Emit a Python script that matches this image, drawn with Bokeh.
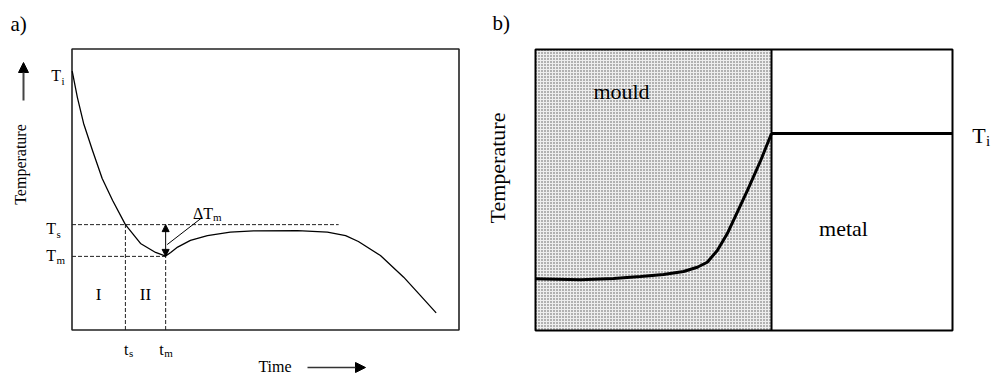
from math import pi

from bokeh.core.properties import value
from bokeh.embed import file_html
from bokeh.models import Arrow, NormalHead, Range1d
from bokeh.plotting import figure
from bokeh.resources import INLINE

# ---- panel a: cooling curve (relative time 0-100, relative temperature 0-100)
cool_time = [0.05, 1.4, 3.0, 5.3, 7.8, 10.5, 13.8, 17.7, 21.6, 24.2, 25.5, 27.3,
             30.6, 35.0, 40.9, 46.9, 58.3, 66.0, 70.7, 74.0, 79.7, 85.7, 90.0, 94.1]
cool_temp = [92.1, 82.7, 73.5, 63.9, 53.9, 46.1, 37.5, 30.8, 27.6, 26.3, 27.6, 29.5,
             31.9, 33.6, 34.8, 35.3, 35.4, 34.8, 33.6, 31.5, 26.5, 18.8, 12.3, 6.1]
level_names = ["i", "s", "m"]          # T_i, T_s, T_m
level_temps = [92.1, 37.5, 26.2]
time_names = ["s", "m"]                 # t_s, t_m
time_marks = [13.8, 24.2]
ts_line_end = 68.9                      # extent of the T_s guide line
stage_names = ["I", "II"]

# ---- panel b: temperature across mould and metal (relative position 0-100)
wall_pos = [0.0, 10.8, 18.7, 25.2, 30.7, 35.5, 38.8, 41.2, 43.6, 46.0, 50.8, 54.0, 56.6]
wall_temp = [18.4, 18.1, 18.5, 19.2, 19.9, 21.0, 22.5, 24.3, 28.5, 34.5, 49.8, 60.5, 70.1]
interface_pos = 56.6
metal_temp = 70.1

W, H = 994, 376
SERIF = value("Liberation Serif")


def span(px_lo, px_hi, v_lo, v_hi, total):
    """Range over the whole canvas such that pixel px_lo -> v_lo and px_hi -> v_hi."""
    k = (v_hi - v_lo) / (px_hi - px_lo)
    return Range1d(start=v_lo - px_lo * k, end=v_lo + (total - px_lo) * k)


def label(x, y, txt, size, align="left", **kw):
    """Serif text centred vertically on (x, y)."""
    p.text(x=[x], y=[y], text=[txt], text_align=align, text_baseline="middle",
           text_font=SERIF, text_font_size=size, text_color="black", **kw)


# page coordinates: pixels, y measured from the top
p = figure(width=W, height=H, output_backend="svg", toolbar_location=None,
           x_range=Range1d(0, W), y_range=Range1d(H, 0), min_border=0)
p.axis.visible = False
p.grid.visible = False
p.outline_line_color = None
p.background_fill_color = "white"
p.border_fill_color = "white"

# frames: a) x 71.5..458.5, y 48.5..329.5 ; b) x 535..952, y 49..330 (pixels)
p.extra_x_ranges = {"a": span(71.5, 458.5, 0, 100, W), "b": span(535, 952, 0, 100, W)}
p.extra_y_ranges = {"a": span(H - 329.5, H - 48.5, 0, 100, H),
                    "b": span(H - 330, H - 49, 0, 100, H)}
A = dict(x_range_name="a", y_range_name="a")
B = dict(x_range_name="b", y_range_name="b")

# ================= panel a =================
p.quad(left=0, right=100, bottom=0, top=100, fill_color=None,
       line_color="#222222", line_width=1.6, **A)

T_i, T_s, T_m = level_temps
t_s, t_m = time_marks
dash = dict(line_color="#222222", line_width=1, line_dash="4 2")
p.segment(x0=[0, 0, t_s, t_m], y0=[T_s, T_m, 0, 0],
          x1=[ts_line_end, t_m, t_s, t_m], y1=[T_s, T_m, T_s, T_m], **dash, **A)

p.line(cool_time, cool_temp, line_color="black", line_width=1.3, **A)

# undercooling double arrow and its leader
p.add_layout(Arrow(start=NormalHead(size=7, fill_color="black", line_color="black"),
                   end=NormalHead(size=7, fill_color="black", line_color="black"),
                   x_start=t_m, y_start=T_m, x_end=t_m, y_end=T_s,
                   line_color="black", line_width=1, **A))
p.line([t_m + 0.4, 33.6], [T_m + 4.2, 40.0], line_color="black", line_width=1, **A)

# level labels T_i, T_s, T_m on the left of the frame
lvl_dx = [-11, -16, -16]
lvl_dy = [4.6, 4.3, -0.5]
sub_dy = [9.5, 9.0, 4.0]
for name, lv, dx, dy, sdy in zip(level_names, level_temps, lvl_dx, lvl_dy, sub_dy):
    label(0, lv, "T", "16px", align="right", x_offset=dx, y_offset=dy, **A)
    label(0, lv, name, "11px", x_offset=dx + 0.5, y_offset=sdy, **A)

# time labels t_s, t_m below the frame
tm_dx = [3, -2]
for name, tv, dx in zip(time_names, time_marks, tm_dx):
    label(tv, 0, "t", "16px", align="right", x_offset=dx, y_offset=19.5, **A)
    label(tv, 0, name, "11px", x_offset=dx + 0.5, y_offset=22.5, **A)

# stage labels centred in their time intervals
stage_x = [(0 + t_s) / 2, (t_s + t_m) / 2]
for sx, name in zip(stage_x, stage_names):
    label(sx, 12.5, name, "17px", align="center", **A)

# delta T_m label at the end of the leader
label(33.6, 40.0, "\u0394T", "16px", x_offset=-9, y_offset=-4.4, **A)
label(33.6, 40.0, "m", "11px", x_offset=11, y_offset=-1.0, **A)

# panel tag, axis titles and their arrows
label(10, 23, "a)", "21px")
p.text(x=[20], y=[164], text=["Temperature"], angle=pi / 2, text_align="center",
       text_baseline="middle", text_font=SERIF, text_font_size="16px", text_color="black")
p.add_layout(Arrow(end=NormalHead(size=10, fill_color="black", line_color="black"),
                   x_start=23, y_start=100, x_end=23, y_end=62,
                   line_color="#444444", line_width=2))
label(274.5, 366, "Time", "16px", align="center")
p.add_layout(Arrow(end=NormalHead(size=10, fill_color="black", line_color="black"),
                   x_start=307, y_start=367, x_end=365, y_end=367,
                   line_color="#333333", line_width=1.5))

# ================= panel b =================
p.quad(left=0, right=interface_pos, bottom=0, top=100, fill_color="#eeeeee",
       hatch_pattern="dot", hatch_color="#555555", hatch_scale=3, hatch_weight=1,
       line_color=None, **B)
p.quad(left=0, right=100, bottom=0, top=100, fill_color=None,
       line_color="black", line_width=2, **B)
p.segment(x0=[interface_pos], y0=[0], x1=[interface_pos], y1=[100],
          line_color="black", line_width=2, **B)
p.segment(x0=[interface_pos], y0=[metal_temp], x1=[100], y1=[metal_temp],
          line_color="black", line_width=3, **B)
p.line(wall_pos, wall_temp, line_color="black", line_width=3, **B)

label(100, metal_temp, "T", "22px", x_offset=19.7, y_offset=2, **B)
label(100, metal_temp, "i", "15px", x_offset=33.5, y_offset=7.5, **B)

label(621, 91, "mould", "22px", align="center")
label(843, 228, "metal", "22px", align="center")
label(492, 22, "b)", "21px")
p.text(x=[497], y=[167.5], text=["Temperature"], angle=pi / 2, text_align="center",
       text_baseline="middle", text_font=SERIF, text_font_size="22px", text_color="black")

open("out.html", "w").write(file_html(p, INLINE))
